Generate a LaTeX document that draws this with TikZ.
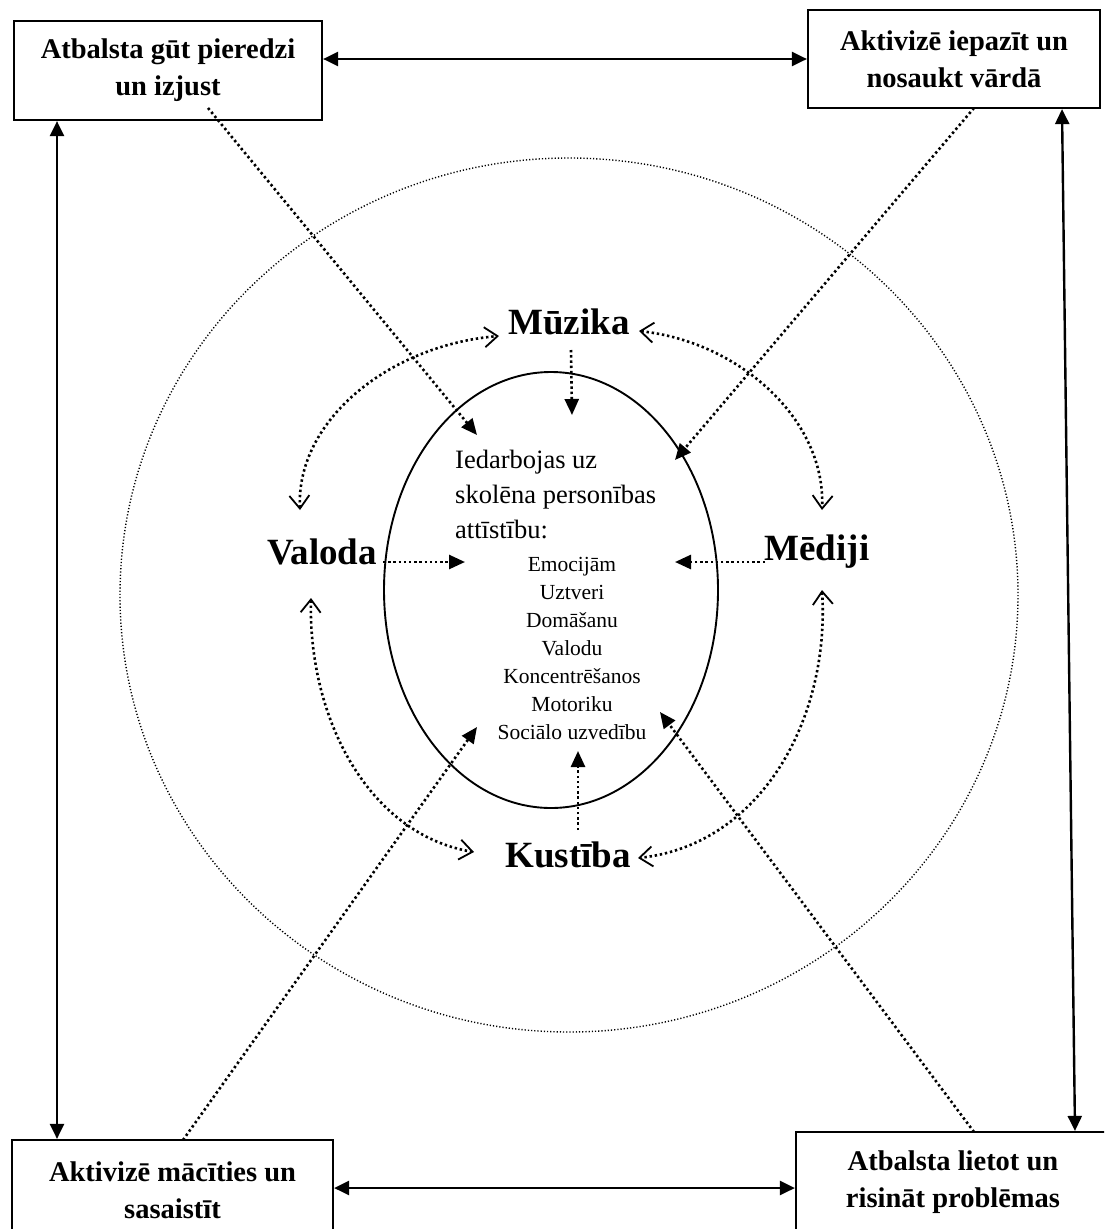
\documentclass[tikz,border=0pt]{standalone}
\usepackage{fontspec}
\setmainfont{Liberation Serif}
\usetikzlibrary{arrows.meta,shapes.geometric}
\begin{document}
\begin{tikzpicture}[x=1pt,y=-1pt,
  box/.style={draw,line width=2.2pt,inner sep=0pt,align=center,font=\fontsize{28.5}{37}\selectfont\bfseries},
  big/.style={font=\fontsize{37}{40}\selectfont\bfseries,inner sep=0pt},
  solidarr/.style={line width=2.4pt,{Triangle[length=15pt,width=14pt]}-{Triangle[length=15pt,width=14pt]}},
  dotarr/.style={line width=2.6pt,dash pattern=on 2.4pt off 2.8pt,-{Triangle[length=16pt,width=14pt]}},
  curvarr/.style={line width=2.6pt,dash pattern=on 2.4pt off 2.8pt,{Straight Barb[length=13pt,width=20pt,line width=1.8pt]}-{Straight Barb[length=13pt,width=20pt,line width=1.8pt]}}
]
\useasboundingbox (0,0) rectangle (1104,1229);
\begin{scope}
\clip (0,0) rectangle (1104,1229);
% boxes
\node[box,minimum width=308pt,minimum height=99pt] (TL) at (168,70.5) {Atbalsta gūt pieredzi\\un izjust};
\node[box,minimum width=292pt,minimum height=98pt] (TR) at (954,59) {Aktivizē iepazīt un\\nosaukt vārdā};
\node[box,minimum width=321pt,minimum height=100pt] (BL) at (172.5,1190) {Aktivizē mācīties un\\sasaistīt};
\node[box,minimum width=314pt,minimum height=100pt] (BR) at (953,1182) {Atbalsta lietot un\\risināt problēmas};
\end{scope}
% ellipses
\draw[line width=1.4pt,dash pattern=on 1.2pt off 2pt] (569,595) ellipse [x radius=449, y radius=437];
\node[draw,ellipse,line width=1.9pt,minimum width=334pt,minimum height=436pt,inner sep=0pt] (E) at (551,590) {};
% big labels
\node[big] (MU) at (569,322) {Mūzika};
\node[big] (VA) at (322,552) {Valoda};
\node[big] (ME) at (817,552) {Mēdiji};
\node[big] (KU) at (568,855) {Kustība};
% inner text
\node[anchor=north west,align=left,inner sep=0pt,font=\fontsize{26.5}{35}\selectfont] (IT) at (455,450) {Iedarbojas uz\\skolēna personības\\attīstību:};
\node[anchor=north,align=center,inner sep=0pt,font=\fontsize{21.5}{28}\selectfont] (LI) at (572,557) {Emocijām\\Uztveri\\Domāšanu\\Valodu\\Koncentrēšanos\\Motoriku\\Sociālo uzvedību};
% coordinates
\coordinate (lx) at (57,0);
\coordinate (rx1) at (1062,0);
\coordinate (rx2) at (1075,0);
\coordinate (tlS) at (208,108);
\coordinate (tlE) at (477,435);
\coordinate (trS) at (974,108);
\coordinate (trE) at (675,460);
\coordinate (blS) at (183,1140);
\coordinate (blE) at (477,727);
\coordinate (brS) at (974,1132);
\coordinate (brE) at (660,712);
\coordinate (muS) at (571,350);
\coordinate (muE) at (572,415);
\coordinate (vaS) at (383,562);
\coordinate (vaE) at (465,562);
\coordinate (meS) at (765,562);
\coordinate (meE) at (675,562);
\coordinate (kuS) at (578,830);
\coordinate (kuE) at (578,751);
\coordinate (c1a) at (300,510);
\coordinate (c1b) at (499,336);
\coordinate (c2a) at (639,331);
\coordinate (c2b) at (822,510);
\coordinate (c3a) at (311,598);
\coordinate (c3b) at (474,852);
\coordinate (c4a) at (822,590);
\coordinate (c4b) at (638,858);
\coordinate (yb) at (0,1188);
% box connectors
\draw[solidarr] (TL.east |- TR.west) -- (TR.west);
\draw[solidarr] (BL.east |- yb) -- (BR.west |- yb);
\draw[solidarr] (TL.south -| lx) -- (BL.north -| lx);
\draw[solidarr] (TR.south -| rx1) -- (BR.north -| rx2);
% dotted diagonals
\draw[dotarr] (tlS) -- (tlE);
\draw[dotarr] (trS) -- (trE);
\draw[dotarr] (blS) -- (blE);
\draw[dotarr] (brS) -- (brE);
% center arrows
\draw[dotarr] (muS) -- (muE);
\draw[dotarr] (vaS) -- (vaE);
\draw[dotarr] (meS) -- (meE);
\draw[dotarr] (kuS) -- (kuE);
% curved double arrows
\draw[curvarr] (c1a) .. controls (296,420) and (390,345) .. (c1b);
\draw[curvarr] (c2a) .. controls (740,342) and (826,420) .. (c2b);
\draw[curvarr] (c3a) .. controls (308,720) and (370,835) .. (c3b);
\draw[curvarr] (c4a) .. controls (830,720) and (760,845) .. (c4b);
\end{tikzpicture}
\end{document}
